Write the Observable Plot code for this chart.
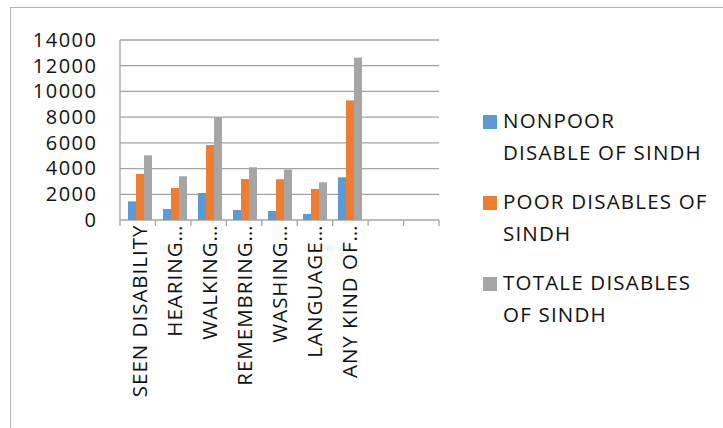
<!DOCTYPE html>
<html>
<head>
<meta charset="utf-8">
<script src="https://cdn.jsdelivr.net/npm/d3@7"></script>
<script src="https://cdn.jsdelivr.net/npm/@observablehq/plot@0.6"></script>
<style>
  html, body { margin: 0; padding: 0; background: #fff; }
  #chart { position: relative; width: 723px; height: 428px; overflow: hidden; font-family: "Open Sans", sans-serif; }
  #chart .border { position: absolute; left: 10px; top: 7px; width: 900px; height: 700px; border: 1.5px solid #b4b4b4; box-sizing: border-box; }
  #chart svg { position: absolute; left: 0; top: 0; }
  #chart g[aria-label="y-axis tick label"] text { letter-spacing: 1.5px; }
  #chart g[aria-label="fx-axis tick label"] text { letter-spacing: 1px; }
  #legend { position: absolute; left: 482px; top: 0; font-size: 20.5px; letter-spacing: 1.2px; color: #111; }
  #legend .item { position: absolute; left: 0; width: 240px; line-height: 32.4px; padding-left: 21px; white-space: nowrap; }
  #legend .sw { position: absolute; left: 1px; top: 11px; width: 14px; height: 14px; }
</style>
</head>
<body>
<div id="chart"><div class="border"></div></div>
<script>
// Disability counts for Sindh by type of difficulty
const categories = ["SEEN DISABILITY", "HEARING…", "WALKING…", "REMEMBRING…", "WASHING…", "LANGUAGE…", "ANY KIND OF…", "", ""];
const series = ["NONPOOR DISABLE OF SINDH", "POOR DISABLES OF SINDH", "TOTALE DISABLES OF SINDH"];
const seriesLines = [["NONPOOR", "DISABLE OF SINDH"], ["POOR DISABLES OF", "SINDH"], ["TOTALE DISABLES", "OF SINDH"]];
const nonpoor = [1450, 860, 2100, 780, 700, 470, 3320];
const poor = [3580, 2490, 5830, 3190, 3170, 2410, 9300];
const totale = [5030, 3400, 8010, 4100, 3920, 2930, 12630];
const yTicks = [0, 2000, 4000, 6000, 8000, 10000, 12000, 14000];
const colors = ["#5b9bd5", "#ed7d31", "#a5a5a5"];

const values = [nonpoor, poor, totale];
const rows = [];
values.forEach((vals, s) => vals.forEach((v, i) => rows.push({cat: i, series: series[s], value: v})));

const gridColor = "#a3a3a3";

const plot = Plot.plot({
  width: 723,
  height: 428,
  marginLeft: 120,
  marginRight: 284,
  marginTop: 40,
  marginBottom: 208,
  style: {fontFamily: "Open Sans", fontSize: "19px", color: "#111", background: "transparent"},
  fx: {domain: d3.range(categories.length), paddingInner: 0, paddingOuter: 0, axis: null},
  x: {domain: series, paddingInner: 0, paddingOuter: 0.68, align: 0.57, axis: null},
  y: {domain: [0, 14000], axis: null},
  color: {domain: series, range: colors},
  marks: [
    Plot.barY(rows, {fx: "cat", x: "series", y: "value", fill: "series", inset: 0}),
    Plot.axisY(yTicks, {tickSize: 0, tickPadding: 25, fontSize: 20, label: null, tickFormat: d => String(d)}),
    Plot.axisFx({anchor: "bottom", tickRotate: -90, tickSize: 0, tickPadding: 4, fontSize: 20.5, label: null, tickFormat: i => categories[i]})
  ]
});

// Gridlines across every category slot, the left axis line and boundary ticks
const fx = plot.scale("fx");
const y = plot.scale("y");
const band = d3.scaleBand().domain(fx.domain).range(fx.range).paddingInner(0).paddingOuter(0);
const y0 = y.apply(0), yTop = y.apply(14000);
const edges = fx.domain.map(d => band(d)).concat([band(fx.domain[fx.domain.length - 1]) + band.bandwidth()]);
const x0 = edges[0], x1 = edges[edges.length - 1];
const svg = d3.select(plot);
const g = svg.insert("g", ":first-child").attr("stroke", gridColor).attr("stroke-width", 1.3);
g.selectAll(".grid").data(yTicks).join("line")
  .attr("x1", x0).attr("x2", x1).attr("y1", d => y.apply(d)).attr("y2", d => y.apply(d));
g.append("line").attr("x1", x0).attr("x2", x0).attr("y1", yTop).attr("y2", y0);
g.selectAll(".tk").data(edges).join("line")
  .attr("x1", d => d).attr("x2", d => d).attr("y1", y0).attr("y2", y0 + 6);

const chart = document.getElementById("chart");
chart.appendChild(plot);

// Legend with wrapped series names
const color = plot.scale("color");
const legend = document.createElement("div");
legend.id = "legend";
const tops = [104, 185, 266];
series.forEach((s, i) => {
  const item = document.createElement("div");
  item.className = "item";
  item.style.top = tops[i] + "px";
  const sw = document.createElement("span");
  sw.className = "sw";
  sw.style.background = color.apply(s);
  item.appendChild(sw);
  seriesLines[i].forEach(t => {
    const line = document.createElement("div");
    line.textContent = t;
    item.appendChild(line);
  });
  legend.appendChild(item);
});
chart.appendChild(legend);
</script>
</body>
</html>
